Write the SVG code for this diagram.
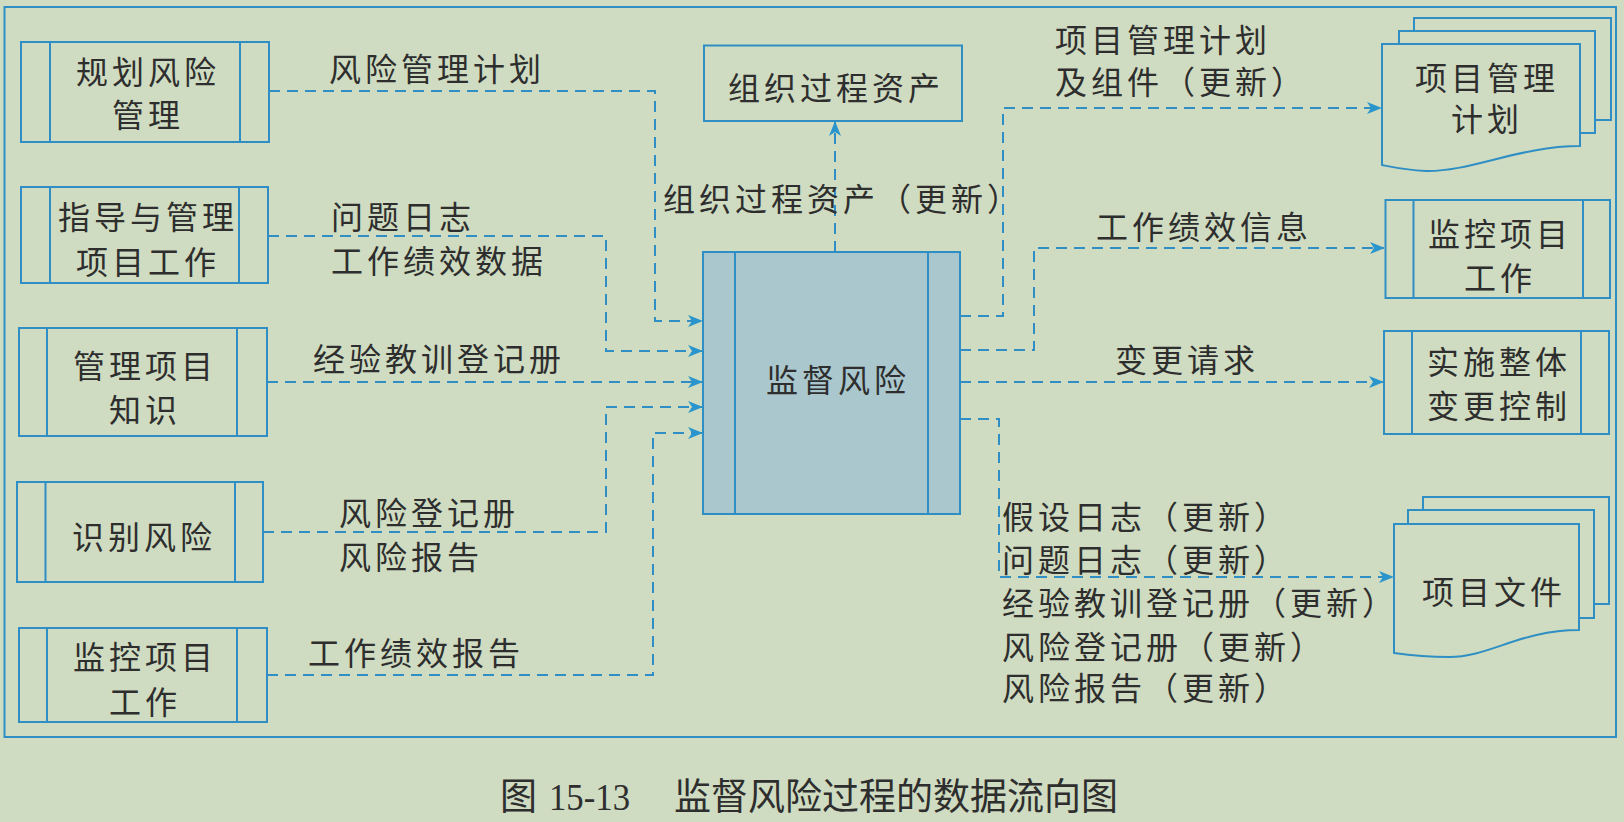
<svg xmlns="http://www.w3.org/2000/svg" width="1624" height="822" viewBox="0 0 1624 822">
<style>
.bx{fill:none;stroke:#2f8fc4;stroke-width:2}
.main{fill:#a9c7cd;stroke:#2f8fc4;stroke-width:2}
.t{font-family:"Noto Sans CJK SC","Noto Sans",sans-serif;font-size:32px;fill:#2e2e2e;letter-spacing:4px}
.m{text-anchor:middle}
.cap{font-family:"Liberation Serif","Noto Sans CJK SC",serif;font-size:37px;fill:#2e2e2e}
.c{fill:none;stroke:#2f8fc4;stroke-width:2;stroke-dasharray:11 7;marker-end:url(#ah)}
</style>
<defs>
<marker id="ah" markerUnits="userSpaceOnUse" markerWidth="15" markerHeight="12" refX="14" refY="6" orient="auto">
<path d="M0,0 L15,6 L0,12 L4,6 Z" fill="#2a95cc"/>
</marker>
</defs>
<rect width="1624" height="822" fill="#cfdcc1"/>
<rect x="4.5" y="7" width="1611.5" height="730" fill="none" stroke="#2f8fc4" stroke-width="2"/>

<g id="n-plan-risk">
<rect class="bx" x="21" y="42" width="248" height="100"/>
<line class="bx" x1="50" y1="42" x2="50" y2="142"/><line class="bx" x1="240" y1="42" x2="240" y2="142"/>
<text class="t m" x="148" y="84">规划风险</text><text class="t m" x="148" y="127">管理</text>
</g>
<g id="n-direct-work">
<rect class="bx" x="21" y="187" width="247" height="96"/>
<line class="bx" x1="50" y1="187" x2="50" y2="283"/><line class="bx" x1="239" y1="187" x2="239" y2="283"/>
<text class="t m" x="148" y="229">指导与管理</text><text class="t m" x="148" y="274">项目工作</text>
</g>
<g id="n-knowledge">
<rect class="bx" x="19" y="328" width="248" height="108"/>
<line class="bx" x1="47" y1="328" x2="47" y2="436"/><line class="bx" x1="237" y1="328" x2="237" y2="436"/>
<text class="t m" x="145" y="378">管理项目</text><text class="t m" x="145" y="422">知识</text>
</g>
<g id="n-identify">
<rect class="bx" x="17" y="482" width="246" height="100"/>
<line class="bx" x1="45.5" y1="482" x2="45.5" y2="582"/><line class="bx" x1="235" y1="482" x2="235" y2="582"/>
<text class="t m" x="144" y="549">识别风险</text>
</g>
<g id="n-monitor-left">
<rect class="bx" x="19" y="628" width="248" height="94"/>
<line class="bx" x1="47" y1="628" x2="47" y2="722"/><line class="bx" x1="237" y1="628" x2="237" y2="722"/>
<text class="t m" x="145" y="669">监控项目</text><text class="t m" x="145" y="714">工作</text>
</g>

<g id="n-opa">
<rect class="bx" x="704" y="45.5" width="258" height="75.5"/>
<text class="t m" x="836" y="100">组织过程资产</text>
</g>
<g id="n-main">
<rect class="main" x="703" y="252" width="257" height="262"/>
<line class="bx" x1="735" y1="252" x2="735" y2="514"/><line class="bx" x1="928" y1="252" x2="928" y2="514"/>
<text class="t m" x="838" y="392">监督风险</text>
</g>

<g id="n-pm-plan">
<path class="bx" d="M1414,31 V18 H1611 V120 H1595"/>
<path class="bx" d="M1399,44 V31 H1595 V133 H1580"/>
<path class="bx" d="M1382,44 H1580 V146 C1520,146 1470,172 1426,171 C1405,170 1392,167 1382,165 Z"/>
<text class="t m" x="1487" y="90">项目管理</text><text class="t m" x="1487" y="131">计划</text>
</g>
<g id="n-monitor-right">
<rect class="bx" x="1385.5" y="200" width="224.5" height="98"/>
<line class="bx" x1="1413.5" y1="200" x2="1413.5" y2="298"/><line class="bx" x1="1583" y1="200" x2="1583" y2="298"/>
<text class="t m" x="1500" y="246">监控项目</text><text class="t m" x="1500" y="290">工作</text>
</g>
<g id="n-change">
<rect class="bx" x="1384" y="331" width="225" height="103"/>
<line class="bx" x1="1412" y1="331" x2="1412" y2="434"/><line class="bx" x1="1581" y1="331" x2="1581" y2="434"/>
<text class="t m" x="1499" y="374">实施整体</text><text class="t m" x="1499" y="418">变更控制</text>
</g>
<g id="n-docs">
<path class="bx" d="M1423,510 V497 H1609 V604 H1594"/>
<path class="bx" d="M1408,524 V510 H1594 V618 H1579"/>
<path class="bx" d="M1394,524 H1579 V630 C1520,630 1490,657 1449,657 C1425,657 1408,655 1394,653 Z"/>
<text class="t m" x="1494" y="604">项目文件</text>
</g>

<g id="connectors">
<path class="c" d="M269,91 H655 V321 H702"/>
<path class="c" d="M268,236 H606 V351 H702"/>
<path class="c" d="M267,382 H702"/>
<path class="c" d="M263,532 H606 V407 H702"/>
<path class="c" d="M267,675 H653 V433 H702"/>
<path class="c" d="M835,252 V122"/>
<path class="c" d="M960,316 H1003 V108 H1381"/>
<path class="c" d="M960,350 H1034 V248 H1384"/>
<path class="c" d="M960,382 H1383"/>
<path class="c" d="M960,419 H999 V577 H1393"/>
</g>

<g id="labels">
<text class="t" x="329" y="81">风险管理计划</text>
<text class="t" x="331" y="229">问题日志</text>
<text class="t" x="331" y="273">工作绩效数据</text>
<text class="t" x="313" y="371">经验教训登记册</text>
<text class="t" x="339" y="525">风险登记册</text>
<text class="t" x="339" y="569">风险报告</text>
<text class="t" x="308" y="665">工作绩效报告</text>
<text class="t" x="663" y="211">组织过程资产（更新）</text>
<text class="t" x="1055" y="52">项目管理计划</text>
<text class="t" x="1055" y="94">及组件（更新）</text>
<text class="t" x="1096" y="239">工作绩效信息</text>
<text class="t" x="1115" y="372">变更请求</text>
<text class="t" x="1002" y="529">假设日志（更新）</text>
<text class="t" x="1002" y="572">问题日志（更新）</text>
<text class="t" x="1002" y="615">经验教训登记册（更新）</text>
<text class="t" x="1002" y="659">风险登记册（更新）</text>
<text class="t" x="1002" y="700">风险报告（更新）</text>
</g>

<text class="cap" y="810"><tspan x="500">图</tspan><tspan x="549" textLength="81" lengthAdjust="spacingAndGlyphs">15-13</tspan><tspan x="674">监督风险过程的数据流向图</tspan></text>
</svg>
